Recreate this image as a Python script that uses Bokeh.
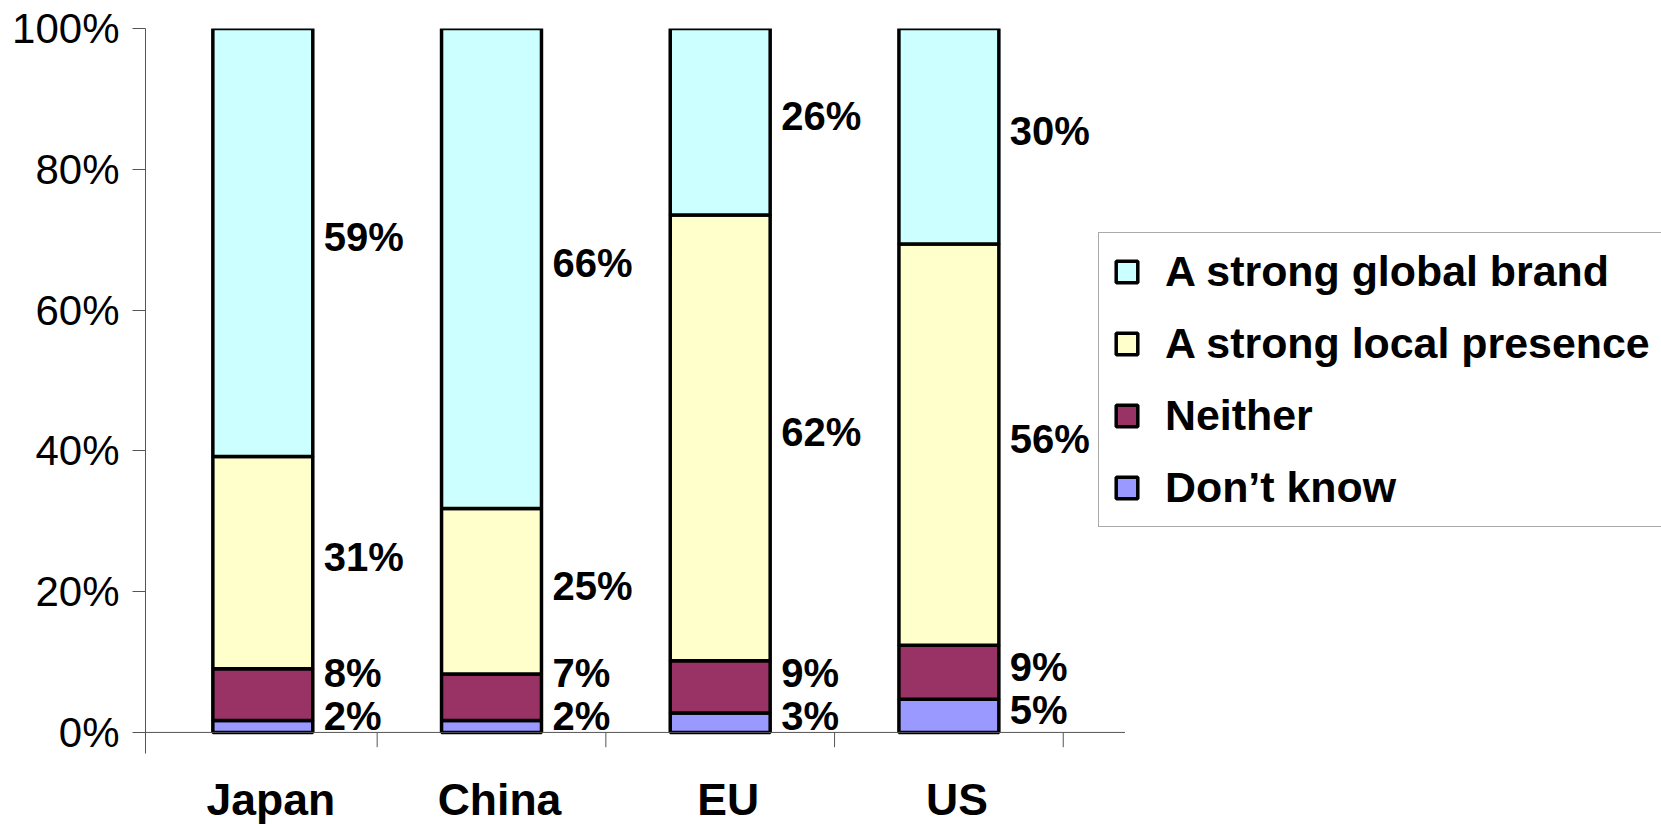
import numpy as np
from bokeh.plotting import figure
from bokeh.models import (ColumnDataSource, Range1d, FixedTicker, PrintfTickFormatter,
                          Legend, LegendItem)
from bokeh.core.properties import value
from bokeh.embed import file_html
from bokeh.resources import INLINE

# ---- data (percent of respondents) ----
regions = ["Japan", "China", "EU", "US"]
series = ["Don’t know", "Neither", "A strong local presence", "A strong global brand"]
dont_know = [1.7, 1.7, 2.75, 4.7]
neither = [7.35, 6.6, 7.45, 7.7]
local = [30.15, 23.5, 63.3, 57.0]
global_brand = [60.8, 68.2, 26.5, 30.6]
label_dont_know = ["2%", "2%", "3%", "5%"]
label_neither = ["8%", "7%", "9%", "9%"]
label_local = ["31%", "25%", "62%", "56%"]
label_global = ["59%", "66%", "26%", "30%"]
y_ticks = [0, 20, 40, 60, 80, 100]

colors = ["#9999FF", "#993366", "#FFFFCC", "#CCFFFF"]
FONT = "Liberation Sans"

centers = [i + 0.5 for i in range(len(regions))]
bar_w = 0.437

src = ColumnDataSource(dict(x=centers, dk=dont_know, ne=neither, lo=local, gl=global_brand))

p = figure(width=1661, height=824, output_backend="svg", toolbar_location=None,
           x_range=Range1d(-0.013, -0.013 + 6.629), y_range=Range1d(-13.08, 100),
           x_axis_location=None,
           min_border_left=145, min_border_right=0, min_border_top=28, min_border_bottom=0)
p.outline_line_color = None
p.grid.visible = False
p.background_fill_color = "white"
p.border_fill_color = "white"

rs = p.vbar_stack(["dk", "ne", "lo", "gl"], x="x", width=bar_w, source=src,
                  fill_color=colors, line_color="black", line_width=3.5)

# x axis line and category separators
axis_col = "#555555"
p.segment(x0=[-0.013], y0=[0], x1=[4.27], y1=[0], line_color=axis_col, line_width=1)
p.segment(x0=[1, 2, 3, 4], y0=[0] * 4, x1=[1, 2, 3, 4], y1=[-2.1] * 4,
          line_color=axis_col, line_width=1)

# y axis
ya = p.yaxis[0]
ya.ticker = FixedTicker(ticks=y_ticks)
ya.formatter = PrintfTickFormatter(format="%d%%")
ya.bounds = (-3, 100)
ya.major_label_text_font = FONT
ya.major_label_text_font_size = "42px"
ya.major_label_text_color = "black"
ya.major_tick_out = 13
ya.major_tick_in = 0
ya.minor_tick_line_color = None
ya.axis_line_color = axis_col
ya.major_tick_line_color = axis_col
ya.major_label_standoff = 13

# category names under the bars
p.text(x=[c + 0.035 for c in centers], y=[-9.5] * len(regions), text=regions,
       text_font=value(FONT), text_font_size="44.5px", text_font_style="bold",
       text_align="center", text_baseline="middle", text_color="black")

# data labels to the right of each bar
segs = np.array([dont_know, neither, local, global_brand])
labels = [label_dont_know, label_neither, label_local, label_global]
tops = np.cumsum(segs, axis=0)
bottoms = tops - segs
mids = (tops + bottoms) / 2
lx, ly, lt = [], [], []
for j in range(len(regions)):
    prev = -1e9
    for k in range(4):
        y = max(mids[k, j] + 0.8, prev + 6.1, 2.3)
        prev = y
        lx.append(centers[j] + bar_w / 2 + 0.048)
        ly.append(y)
        lt.append(labels[k][j])
p.text(x=lx, y=ly, text=lt, text_font=value(FONT), text_font_size="40px",
       text_font_style="bold", text_align="left", text_baseline="middle", text_color="black")

# legend
items = [LegendItem(label=series[k], renderers=[rs[k]]) for k in [3, 2, 1, 0]]
leg = Legend(items=items, location=(953, 297), orientation="vertical",
             label_text_font=FONT, label_text_font_size="42.9px", label_text_font_style="bold",
             label_text_color="black", glyph_width=27, glyph_height=27, label_height=48,
             label_standoff=25, spacing=23, padding=14, margin=0,
             border_line_color="#555555", border_line_width=1,
             background_fill_color="white", background_fill_alpha=1.0)
p.add_layout(leg, "center")

open("out.html", "w").write(file_html(p, INLINE))
